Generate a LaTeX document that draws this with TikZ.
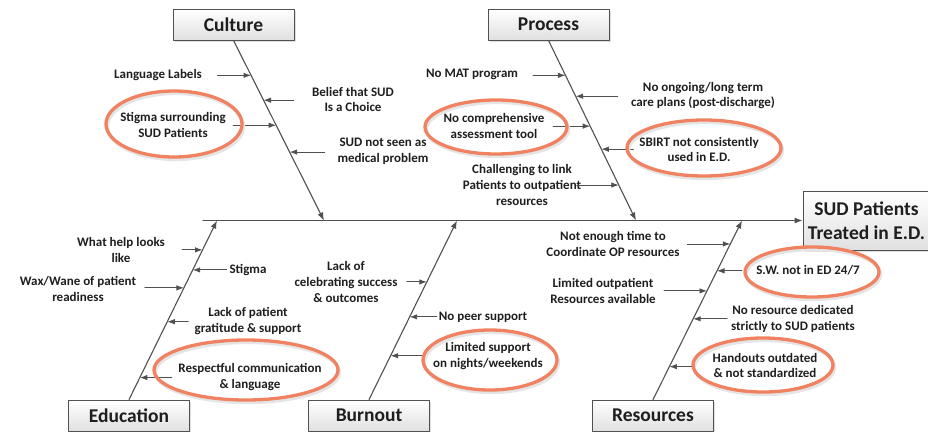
\documentclass[tikz,border=0pt]{standalone}
\usepackage{fontspec}
\setmainfont{Carlito}
\usetikzlibrary{arrows.meta,shadows}
\definecolor{ringc}{RGB}{240,130,98}
\definecolor{bonec}{RGB}{80,80,80}
\definecolor{inkc}{RGB}{30,30,30}
\begin{document}
\begin{tikzpicture}[x=1pt,y=-1pt,line cap=round,line join=round,
  cat/.style={draw=bonec,line width=0.8pt,top color=white,bottom color=black!12,
    minimum width=121pt,minimum height=31pt,inner sep=0pt,text=inkc,
    font=\fontsize{19.5}{24}\selectfont\bfseries,
    drop shadow={shadow xshift=1.5pt,shadow yshift=-1.5pt,opacity=.25}},
  lbl/.style={align=center,inner sep=0pt,text=inkc,font=\fontsize{13}{15.6}\selectfont\bfseries},
  bone/.style={draw=bonec,line width=1.1pt,-{Latex[length=8pt,width=6pt]}},
  sub/.style={draw=bonec,line width=0.9pt,-{Latex[length=7.5pt,width=5.5pt]}},
  ring/.style={draw=ringc,line width=3.3pt},
  ringsh/.style={draw=black!10,line width=3.3pt}]
  \useasboundingbox (0,0) rectangle (928,431);
  \clip (0,0) rectangle (928,431);

  % head and spine
  \node[cat,align=center,minimum width=127pt,minimum height=59pt] (head) at (866.5,220.5) {SUD Patients\\Treated in E.D.};
  \coordinate (spL) at (203,220.5);
  \draw[bone] (spL) -- (head.west);

  % category boxes
  \node[cat] (cul) at (233.5,24.5) {Culture};
  \node[cat] (proc) at (548.5,24.5) {Process};
  \node[cat] (edu) at (129,415.5) {Education};
  \node[cat] (burn) at (369,415.5) {Burnout};
  \node[cat] (res) at (653,415.5) {Resources};

  % bones
  \coordinate (culE) at (324,220.5);
  \coordinate (procE) at (636,220.5);
  \coordinate (eduE) at (217,220.5);
  \coordinate (burnE) at (457,220.5);
  \coordinate (resE) at (742,220.5);
  \draw[bone] (cul.south) -- (culE);
  \draw[bone] (proc.south) -- (procE);
  \draw[bone] (edu.north) -- (eduE);
  \draw[bone] (burn.north) -- (burnE);
  \draw[bone] (res.north) -- (resE);

  % points on the bones
  \path (cul.south) -- (culE) coordinate[pos=.194] (cu1) coordinate[pos=.332] (cu2)
    coordinate[pos=.471] (cu3) coordinate[pos=.620] (cu4);
  \path (proc.south) -- (procE) coordinate[pos=.194] (pr1) coordinate[pos=.310] (pr2)
    coordinate[pos=.476] (pr3) coordinate[pos=.604] (pr4) coordinate[pos=.803] (pr5);
  \path (edu.north) -- (eduE) coordinate[pos=.836] (ed1) coordinate[pos=.724] (ed2)
    coordinate[pos=.624] (ed3) coordinate[pos=.435] (ed4) coordinate[pos=.123] (ed5);
  \path (burn.north) -- (burnE) coordinate[pos=.657] (bu1) coordinate[pos=.462] (bu2)
    coordinate[pos=.245] (bu3);
  \path (res.north) -- (resE) coordinate[pos=.869] (re1) coordinate[pos=.719] (re2)
    coordinate[pos=.607] (re3) coordinate[pos=.451] (re4) coordinate[pos=.184] (re5);

  % Culture
  \node[lbl] (lang) at (158,75) {Language Labels};
  \node[lbl] (choice) at (353,99.5) {Belief that SUD\\Is a Choice};
  \node[lbl] (stig) at (173,125) {Stigma surrounding\\SUD Patients};
  \node[lbl] (medprob) at (383,151) {SUD not seen as\\medical problem};
  \draw[sub] ([xshift=-33.5pt]cu1) -- (cu1);
  \draw[sub] ([xshift=30pt]cu2) -- (cu2);
  \draw[sub] ([xshift=-43pt]cu3) -- (cu3);
  \draw[sub] ([xshift=35pt]cu4) -- (cu4);

  % Process
  \node[lbl] (mat) at (472,74) {No MAT program};
  \node[lbl] (plans) at (703,95.5) {No ongoing/long term\\care plans (post-discharge)};
  \node[lbl] (tool) at (494,126) {No comprehensive\\assessment tool};
  \node[lbl] (sbirt) at (699,149.5) {SBIRT not consistently\\used in E.D.};
  \node[lbl] (link) at (522,185) {Challenging to link\\Patients to outpatient\\resources};
  \draw[sub] ([xshift=-32.5pt]pr1) -- (pr1);
  \draw[sub] ([xshift=42pt]pr2) -- (pr2);
  \draw[sub] ([xshift=-37pt]pr3) -- (pr3);
  \draw[sub] ([xshift=32pt]pr4) -- (pr4);
  \draw[sub] ([xshift=-42pt]pr5) -- (pr5);

  % Education
  \node[lbl] (help) at (121,250) {What help looks\\like};
  \node[lbl] (stigma) at (248,270) {Stigma};
  \node[lbl] (wax) at (78,289) {Wax/Wane of patient\\readiness};
  \node[lbl] (grat) at (248,321) {Lack of patient\\gratitude \& support};
  \node[lbl] (resp) at (250,377) {Respectful communication\\\& language};
  \draw[sub] ([xshift=-20.5pt]ed1) -- (ed1);
  \draw[sub] ([xshift=34pt]ed2) -- (ed2);
  \draw[sub] ([xshift=-39pt]ed3) -- (ed3);
  \draw[sub] ([xshift=21pt]ed4) -- (ed4);
  \draw[sub] ([xshift=32pt]ed5) -- (ed5);

  % Burnout
  \node[lbl] (celeb) at (346,282) {Lack of\\celebrating success\\\& outcomes};
  \node[lbl] (peer) at (483,317) {No peer support};
  \node[lbl] (nights) at (488,356) {Limited support\\on nights/weekends};
  \draw[sub] ([xshift=-20pt]bu1) -- (bu1);
  \draw[sub] ([xshift=27pt]bu2) -- (bu2);
  \draw[sub] ([xshift=34pt]bu3) -- (bu3);

  % Resources
  \node[lbl] (optime) at (613,244) {Not enough time to\\Coordinate OP resources};
  \node[lbl] (sw) at (808,270) {S.W. not in ED 24/7};
  \node[lbl] (avail) at (603,291) {Limited outpatient\\Resources available};
  \node[lbl] (dedic) at (793,319) {No resource dedicated\\strictly to SUD patients};
  \node[lbl] (hand) at (765,365.5) {Handouts outdated\\\& not standardized};
  \draw[sub] ([xshift=-43pt]re1) -- (re1);
  \draw[sub] ([xshift=25pt]re2) -- (re2);
  \draw[sub] ([xshift=-43pt]re3) -- (re3);
  \draw[sub] ([xshift=34pt]re4) -- (re4);
  \draw[sub] ([xshift=24pt]re5) -- (re5);

  % highlighted causes
  \foreach \n/\dx/\dy/\rx/\ry in {stig/1/-1/68/33, tool/2/1/71/27, sbirt/5/-1.5/77/28,
      resp/-4/-7/92/30, nights/2/4/67/30, sw/4/2/67/25, hand/-2/-0.5/70/27}{
    \draw[ringsh] ([shift={(\dx+1.5,\dy+2.5)}]\n.center) ellipse [x radius=\rx,y radius=\ry];
    \draw[ring] ([shift={(\dx,\dy)}]\n.center) ellipse [x radius=\rx,y radius=\ry];
  }
\end{tikzpicture}
\end{document}
